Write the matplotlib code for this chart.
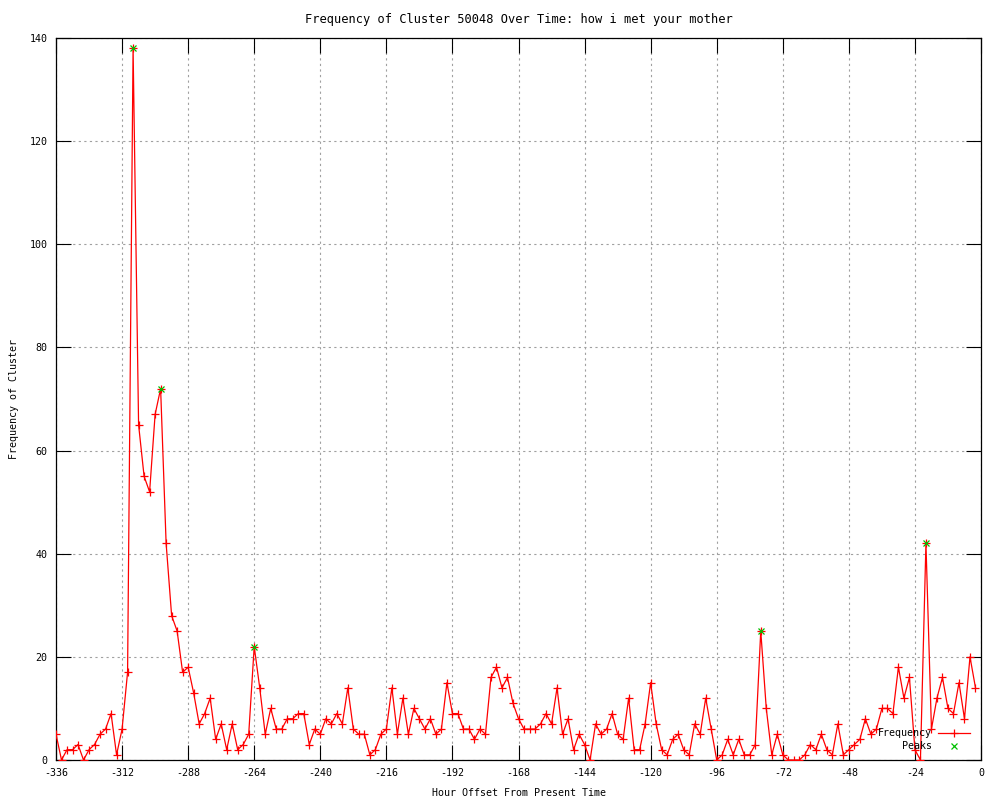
"""Cluster frequency over time, gnuplot-style line chart."""

import matplotlib

matplotlib.use("Agg")
from matplotlib import pyplot as plt

hours = list(range(-336, 0, 2))
frequency = [
    5, 0, 2, 2, 3, 0, 2, 3, 5, 6, 9, 1, 6, 17,
    138, 65, 55, 52, 67, 72, 42, 28, 25, 17, 18, 13, 7, 9,
    12, 4, 7, 2, 7, 2, 3, 5, 22, 14, 5, 10, 6, 6,
    8, 8, 9, 9, 3, 6, 5, 8, 7, 9, 7, 14, 6, 5,
    5, 1, 2, 5, 6, 14, 5, 12, 5, 10, 8, 6, 8, 5,
    6, 15, 9, 9, 6, 6, 4, 6, 5, 16, 18, 14, 16, 11,
    8, 6, 6, 6, 7, 9, 7, 14, 5, 8, 2, 5, 3, 0,
    7, 5, 6, 9, 5, 4, 12, 2, 2, 7, 15, 7, 2, 1,
    4, 5, 2, 1, 7, 5, 12, 6, 0, 1, 4, 1, 4, 1,
    1, 3, 25, 10, 1, 5, 1, 0, 0, 0, 1, 3, 2, 5,
    2, 1, 7, 1, 2, 3, 4, 8, 5, 6, 10, 10, 9, 18,
    12, 16, 2, 0, 42, 6, 12, 16, 10, 9, 15, 8, 20, 14,
]
peak_hours = [-308, -298, -264, -80, -20]
peak_values = [138, 72, 22, 25, 42]

x_ticks = list(range(-336, 1, 24))
y_ticks = list(range(0, 141, 20))

plt.rcParams["font.family"] = ["DejaVu Sans Mono"]
plt.rcParams["font.size"] = 7.2
plt.rcParams["axes.unicode_minus"] = False

figure = plt.figure(figsize=(10, 8), dpi=100)
axis = figure.add_axes((0.056, 0.05, 0.925, 0.9025))

axis.plot(
    hours,
    frequency,
    color="#ff0000",
    linewidth=0.9,
    marker="+",
    markersize=6,
    markeredgewidth=0.9,
    label="Frequency",
    zorder=3,
)
axis.plot(
    peak_hours,
    peak_values,
    linestyle="none",
    color="#00c000",
    marker="x",
    markersize=5,
    markeredgewidth=0.9,
    label="Peaks",
    zorder=4,
)

axis.set_xlim(-336, 0)
axis.set_ylim(0, 140)
axis.set_xticks(x_ticks)
axis.set_yticks(y_ticks)
axis.grid(True, color="#a0a0a0", linestyle=(0, (2, 3)), linewidth=0.8)
axis.set_axisbelow(True)
axis.tick_params(
    direction="in",
    length=11,
    width=0.8,
    top=True,
    right=True,
    pad=6,
    labelsize=7.2,
)
for spine in axis.spines.values():
    spine.set_linewidth(0.9)

axis.set_title("Frequency of Cluster 50048 Over Time: how i met your mother", pad=11)
axis.set_xlabel("Hour Offset From Present Time", labelpad=7)
axis.set_ylabel("Frequency of Cluster", labelpad=8)

axis.legend(
    loc="lower right",
    bbox_to_anchor=(0.998, 0.0),
    frameon=False,
    markerfirst=False,
    handlelength=3.2,
    handletextpad=0.6,
    labelspacing=0.25,
    fontsize=7.2,
)

figure.savefig("out.png", dpi=100)
plt.close(figure)
